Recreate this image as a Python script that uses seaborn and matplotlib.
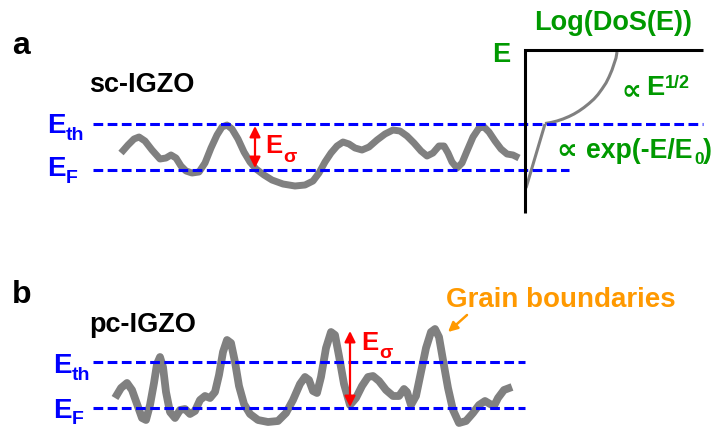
import matplotlib
matplotlib.use("Agg")
import matplotlib.pyplot as plt
import seaborn as sns
import pandas as pd

sns.set_theme(style="white")
plt.rcParams['font.family'] = ['Liberation Sans', 'DejaVu Sans']
plt.rcParams['lines.scale_dashes'] = False

# Energy landscape of single-crystal IGZO (x position, band-edge level; canvas px, y downward)
sc_x = [121, 128, 134, 139, 145, 152, 160, 166, 171, 176, 181, 186, 192, 199, 205, 211, 217, 222, 227,
        232, 238, 244, 250, 256, 264, 272, 283, 295, 305, 313, 319, 325, 331, 337, 343, 349, 355, 362,
        369, 377, 385, 393, 400, 407, 414, 421, 427, 433, 439, 444, 448, 452, 457, 462, 467, 473, 479,
        484, 489, 495, 501, 507, 513, 519]
sc_y = [153, 145, 139, 137, 141, 150, 159, 158, 155, 158, 166, 171, 173, 172, 163, 148, 135, 127, 125,
        129, 139, 152, 162, 169, 175, 180, 184, 186, 185, 181, 173, 162, 153, 146, 142, 144, 148, 150,
        147, 140, 134, 130, 131, 136, 143, 151, 156, 153, 146, 146, 153, 162, 168, 163, 151, 137, 128,
        127, 132, 141, 149, 154, 155, 158]

# Energy landscape of polycrystalline IGZO
pc_x = [115, 121, 127, 132, 137, 142, 146, 150, 154, 157, 160, 163, 166, 170, 175, 180, 185, 190, 195,
        200, 205, 210, 215, 219, 223, 227, 231, 235, 239, 244, 250, 258, 268, 278, 286, 293, 300, 305,
        309, 313, 317, 321, 326, 331, 335, 339, 344, 350, 356, 362, 368, 373, 379, 386, 393, 399, 404,
        407, 411, 416, 421, 426, 431, 435, 439, 443, 448, 453, 459, 466, 473, 479, 485, 490, 494, 498,
        504, 512]
pc_y = [398, 388, 383, 390, 404, 418, 420, 405, 383, 364, 357, 367, 392, 412, 418, 410, 409, 414, 411,
        400, 396, 398, 392, 375, 352, 340, 343, 362, 386, 404, 414, 420, 422, 421, 413, 400, 384, 377,
        380, 391, 393, 377, 348, 332, 335, 356, 384, 405, 398, 386, 377, 376, 381, 390, 396, 396, 389,
        392, 405, 396, 372, 348, 332, 329, 337, 360, 388, 410, 423, 421, 413, 405, 401, 404, 406, 398,
        390, 387]

# Density of states sketch: parabolic band and exponential tail
dos_band_x = [545, 551, 557, 563, 569, 574, 579, 584, 589, 594, 598, 602, 606, 609, 612, 614, 616, 617]
dos_band_y = [123.5, 122.5, 121, 119, 116.5, 114, 111, 107.5, 103.5, 99, 94.5, 89, 83, 77, 70, 64, 58, 52]
dos_tail_x = [545, 526]
dos_tail_y = [124, 188]

# Reference levels (threshold and Fermi energies) per panel
a_eth, a_ef = 124, 170
b_eth, b_ef = 362, 408
a_sigma_x, b_sigma_x = 255, 350
a_sigma_top, a_sigma_bot = 126, 168
b_sigma_top, b_sigma_bot = 331, 407

GRAY = "#808080"
BLUE = "#0000FF"
RED = "#FF0000"
GREEN = "#009900"
ORANGE = "#FF9900"

fig = plt.figure(figsize=(7.16, 4.28), dpi=100)
ax = fig.add_axes([0, 0, 1, 1])
ax.set_xlim(0, 716)
ax.set_ylim(428, 0)
ax.axis("off")

sc = pd.DataFrame({"x": sc_x, "y": sc_y})
pc = pd.DataFrame({"x": pc_x, "y": pc_y})
sns.lineplot(data=sc, x="x", y="y", sort=False, color=GRAY, lw=5.0, ax=ax,
             solid_capstyle="butt", solid_joinstyle="round", zorder=2)
sns.lineplot(data=pc, x="x", y="y", sort=False, color=GRAY, lw=5.6, ax=ax,
             solid_capstyle="butt", solid_joinstyle="round", zorder=2)
sns.lineplot(x=dos_band_x, y=dos_band_y, sort=False, color=GRAY, lw=2.2, ax=ax,
             solid_capstyle="butt", solid_joinstyle="round", zorder=2)
sns.lineplot(x=dos_tail_x, y=dos_tail_y, sort=False, color=GRAY, lw=2.2, ax=ax,
             solid_capstyle="butt", zorder=2)

dash = (0, (7.0, 3.2))
ax.hlines([a_eth], 93, 703, colors=BLUE, lw=2.2, linestyles=[dash], zorder=3)
ax.hlines([a_ef], 93, 569, colors=BLUE, lw=2.2, linestyles=[dash], zorder=3)
ax.hlines([b_eth, b_ef], 93, 525, colors=BLUE, lw=2.2, linestyles=[dash], zorder=3)

# DoS axes
ax.plot([525, 525, 703], [213, 50, 50], color="black", lw=2.2, solid_joinstyle="miter",
        solid_capstyle="butt", zorder=4)

# E_sigma arrows
arrow = dict(arrowstyle="<|-|>", color=RED, lw=1.6, mutation_scale=16, shrinkA=0, shrinkB=0)
ax.annotate("", xy=(a_sigma_x, a_sigma_top), xytext=(a_sigma_x, a_sigma_bot), arrowprops=arrow, zorder=5)
ax.annotate("", xy=(b_sigma_x, b_sigma_top), xytext=(b_sigma_x, b_sigma_bot), arrowprops=arrow, zorder=5)

bold = dict(fontweight="bold")
# panel letters and titles
ax.text(12, 46, "a", fontsize=23, ha="left", va="center", color="black", **bold)
ax.text(12, 295, "b", fontsize=23, ha="left", va="center", color="black", **bold)
ax.text(89, 85, "sc-IGZO", fontsize=19.5, ha="left", va="center", color="black", **bold)
ax.text(89, 325, "pc-IGZO", fontsize=19.5, ha="left", va="center", color="black", **bold)


def sub_label(x, y, main, sub, color, sub_dx, sub_dy, size=20, sub_size=14):
    ax.text(x, y, main, fontsize=size, ha="left", va="center", color=color, **bold)
    ax.text(x + sub_dx, y + sub_dy, sub, fontsize=sub_size, ha="left", va="center", color=color, **bold)


sub_label(47, 126, "E", "th", BLUE, 19, 10)
sub_label(47, 169, "E", "F", BLUE, 19, 9)
sub_label(53, 366, "E", "th", BLUE, 19, 10)
sub_label(53, 411, "E", "F", BLUE, 19, 8)
sub_label(265, 146, "E", "σ", RED, 18, 11, size=18.5, sub_size=14)
sub_label(361, 343, "E", "σ", RED, 18, 11, size=18.5, sub_size=14)

# DoS annotations
ax.text(613, 23, "Log(DoS(E))", fontsize=19.5, ha="center", va="center", color=GREEN, **bold)
ax.text(492, 55, "E", fontsize=19.5, ha="left", va="center", color=GREEN, **bold)
ax.text(621, 90, "∝", fontsize=20, ha="left", va="center", color=GREEN,
        family=["DejaVu Sans"], fontweight="bold")
ax.text(646, 88, "E", fontsize=19.5, ha="left", va="center", color=GREEN, **bold)
ax.text(665, 83, "1/2", fontsize=13, ha="left", va="center", color=GREEN, **bold)
ax.text(556, 151, "∝", fontsize=21, ha="left", va="center", color=GREEN,
        family=["DejaVu Sans"], fontweight="bold")
ax.text(586, 151, "exp(-E/E", fontsize=19.2, ha="left", va="center", color=GREEN, **bold)
ax.text(694, 159, "0", fontsize=12.5, ha="left", va="center", color=GREEN, **bold)
ax.text(703, 151, ")", fontsize=19.2, ha="left", va="center", color=GREEN, **bold)

# grain boundary callout
ax.text(446, 300, "Grain boundaries", fontsize=20, ha="left", va="center", color=ORANGE, **bold)
ax.annotate("", xy=(448, 332), xytext=(467, 315),
            arrowprops=dict(arrowstyle="-|>", color=ORANGE, lw=1.8, mutation_scale=14,
                            shrinkA=0, shrinkB=0))

fig.savefig("out.png", dpi=100)
